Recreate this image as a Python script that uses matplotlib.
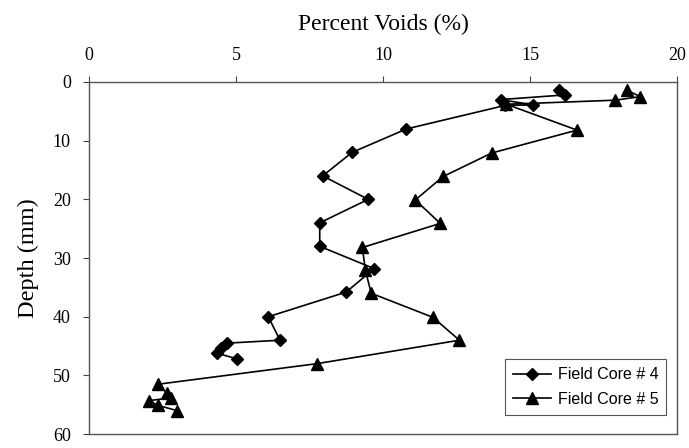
import matplotlib.pyplot as plt

# Field Core # 4 (diamonds)
core4_voids = [16.0, 16.2, 14.0, 15.1, 14.15, 10.8, 8.95, 7.95, 9.5, 7.85, 7.85,
               9.7, 8.75, 6.1, 6.5, 4.7, 4.5, 4.35, 5.05]
core4_depth = [1.4, 2.2, 3.0, 3.9, 4.0, 8.0, 12.0, 16.0, 20.0, 24.0, 28.0,
               31.8, 35.8, 40.0, 44.0, 44.5, 45.4, 46.2, 47.2]

# Field Core # 5 (triangles)
core5_voids = [18.3, 18.75, 17.9, 14.2, 16.6, 13.7, 12.05, 11.1, 11.95, 9.3, 9.4,
               9.6, 11.7, 12.6, 7.75, 2.35, 2.65, 2.8, 2.05, 2.35, 3.0]
core5_depth = [1.4, 2.5, 3.1, 3.8, 8.2, 12.1, 16.1, 20.1, 24.1, 28.2, 32.0,
               36.0, 40.1, 44.0, 48.0, 51.5, 53.0, 53.8, 54.3, 55.1, 56.0]

x_ticks = [0, 5, 10, 15, 20]
y_ticks = [0, 10, 20, 30, 40, 50, 60]

serif = 'Liberation Serif'

fig = plt.figure(figsize=(6.89, 4.48), dpi=100)
ax = fig.add_axes([0.129, 0.031, 0.8536, 0.786])

ax.plot(core4_voids, core4_depth, color='black', linewidth=1.2, marker='D',
        markersize=6.5, label='Field Core # 4')
ax.plot(core5_voids, core5_depth, color='black', linewidth=1.2, marker='^',
        markersize=8, label='Field Core # 5')

ax.set_xlim(0, 20)
ax.set_ylim(60, 0)
ax.set_xticks(x_ticks)
ax.set_yticks(y_ticks)
ax.xaxis.tick_top()
ax.xaxis.set_label_position('top')
ax.tick_params(axis='both', labelsize=13, length=4, color='#444444', pad=9)
for lbl in ax.get_xticklabels() + ax.get_yticklabels():
    lbl.set_fontfamily(serif)

ax.set_xlabel('Percent Voids (%)', fontsize=17, fontfamily=serif, labelpad=12)
ax.set_ylabel('Depth (mm)', fontsize=17.5, fontfamily=serif, labelpad=10)

for side in ['top', 'bottom', 'left', 'right']:
    ax.spines[side].set_color('#555555')
    ax.spines[side].set_linewidth(1.0)

leg = ax.legend(loc='lower right', bbox_to_anchor=(0.982, 0.055),
                prop={'family': 'Liberation Sans', 'size': 11.5},
                fancybox=False, edgecolor='#555555', framealpha=1,
                handlelength=2.4, borderpad=0.5, labelspacing=0.6,
                handletextpad=0.4, borderaxespad=0)
leg.get_frame().set_linewidth(0.8)

fig.savefig('out.png', dpi=100)
